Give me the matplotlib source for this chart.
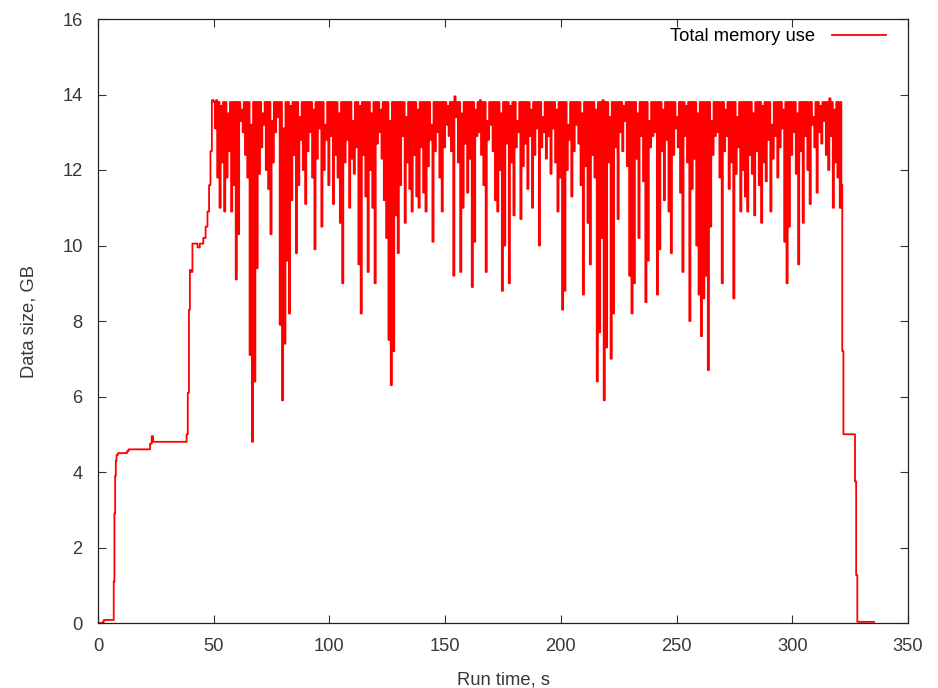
import matplotlib
matplotlib.use("Agg")
import matplotlib.pyplot as plt
import numpy as np

# ramp up before the busy phase (time s, GB)
start_t = [0, 2, 2.5, 6.8, 7.1, 7.4, 7.7, 8.0, 8.6, 12.5, 13.2, 21, 22.5, 23.2, 23.8,
           37.5, 38.3, 38.8, 39.3, 39.7, 40.3, 40.8, 41.5, 43, 44, 45.5, 46.5,
           47.3, 48, 48.6, 49.2]
start_v = [0, 0.03, 0.08, 1.1, 2.9, 3.9, 4.3, 4.45, 4.5, 4.55, 4.6, 4.6, 4.75, 4.95, 4.8,
           4.8, 5.0, 6.1, 8.3, 9.35, 9.3, 10.05, 10.05, 9.95, 10.05, 10.2, 10.5,
           10.9, 11.6, 12.5, 13.85]

# busy phase: peaks at whole seconds 50..320, troughs half a second later
peaks = [
    13.8, 13.85, 13.8, 13.7, 13.8, 13.8, 13.5, 13.8, 13.8, 13.8,
    13.8, 13.8, 13.6, 13.8, 13.8, 13.8, 13.2, 13.8, 13.8, 13.8,
    13.8, 13.5, 13.8, 13.8, 13.8, 13.3, 13.8, 13.8, 13.8, 13.8,
    13.1, 13.8, 13.8, 13.7, 13.8, 13.8, 13.8, 13.4, 13.8, 13.8,
    13.8, 13.8, 13.8, 13.6, 13.8, 13.8, 13.8, 13.8, 13.2, 13.8,
    13.8, 13.8, 13.8, 13.8, 13.5, 13.8, 13.8, 13.8, 13.8, 13.8,
    13.3, 13.8, 13.8, 13.7, 13.8, 13.8, 13.8, 13.8, 13.5, 13.8,
    13.8, 13.8, 13.6, 13.8, 13.8, 13.8, 13.3, 13.8, 13.8, 13.8,
    13.8, 13.8, 13.8, 13.4, 13.8, 13.8, 13.8, 13.8, 13.6, 13.8,
    13.8, 13.8, 13.8, 13.8, 13.2, 13.8, 13.8, 13.8, 13.8, 13.8,
    13.8, 13.7, 13.8, 13.8, 13.95, 13.8, 13.8, 13.5, 13.8, 13.8,
    13.8, 13.8, 13.8, 13.6, 13.8, 13.85, 13.8, 13.8, 13.3, 13.8,
    13.8, 13.8, 13.8, 13.8, 13.5, 13.8, 13.8, 13.8, 13.7, 13.8,
    13.8, 13.3, 13.8, 13.8, 13.8, 13.8, 13.8, 13.6, 13.8, 13.8,
    13.8, 13.8, 13.4, 13.8, 13.8, 13.8, 13.8, 13.8, 13.6, 13.8,
    13.8, 13.8, 13.8, 13.2, 13.8, 13.8, 13.8, 13.8, 13.8, 13.5,
    13.8, 13.8, 13.8, 13.8, 13.8, 13.6, 13.8, 13.8, 13.85, 13.8,
    13.8, 13.4, 13.8, 13.8, 13.8, 13.8, 13.8, 13.7, 13.8, 13.8,
    13.8, 13.8, 13.8, 13.5, 13.8, 13.8, 13.8, 13.8, 13.3, 13.8,
    13.8, 13.8, 13.8, 13.8, 13.6, 13.8, 13.8, 13.8, 13.8, 13.8,
    13.4, 13.8, 13.8, 13.8, 13.7, 13.8, 13.8, 13.8, 13.8, 13.5,
    13.8, 13.8, 13.8, 13.8, 13.8, 13.3, 13.8, 13.8, 13.8, 13.8,
    13.8, 13.6, 13.8, 13.8, 13.8, 13.8, 13.4, 13.8, 13.8, 13.8,
    13.8, 13.8, 13.8, 13.5, 13.8, 13.8, 13.8, 13.7, 13.8, 13.8,
    13.8, 13.2, 13.8, 13.8, 13.8, 13.8, 13.6, 13.8, 13.8, 13.8,
    13.8, 13.8, 13.5, 13.8, 13.8, 13.8, 13.8, 13.8, 13.8, 13.4,
    13.8, 13.8, 13.7, 13.8, 13.8, 13.8, 13.9, 13.8, 13.6, 13.8,
    13.8,
]
troughs = [
    13.1, 11.8, 11.0, 12.2, 10.9, 11.8, 12.5, 10.9, 11.6, 9.1,
    10.3, 13.3, 13.0, 12.4, 11.8, 7.1, 4.8, 6.4, 9.4, 11.9,
    12.6, 13.2, 12.0, 11.5, 10.3, 12.2, 13.0, 13.4, 7.9, 5.9,
    7.4, 9.6, 8.2, 11.2, 12.4, 9.8, 11.6, 12.8, 12.0, 11.1,
    12.5, 13.0, 11.8, 9.9, 12.3, 13.1, 10.5, 12.0, 12.8, 11.6,
    12.9, 11.1, 12.4, 11.8, 10.6, 9.0, 12.2, 12.8, 11.0, 12.3,
    11.9, 12.6, 9.5, 8.2, 12.4, 11.3, 9.3, 12.0, 11.0, 9.0,
    12.7, 13.0, 12.3, 11.2, 10.2, 7.5, 6.3, 7.2, 10.8, 9.8,
    11.6, 12.9, 10.6, 12.2, 11.5, 10.9, 12.4, 11.3, 11.0, 12.6,
    11.4, 10.9, 12.1, 12.8, 10.1, 12.5, 13.0, 11.8, 10.9, 12.6,
    13.2, 12.9, 12.5, 9.2, 13.4, 12.2, 9.3, 11.0, 12.7, 11.4,
    12.3, 8.9, 10.1, 12.9, 13.0, 12.4, 11.6, 9.3, 12.8, 13.2,
    12.5, 11.2, 10.9, 12.0, 8.8, 10.0, 12.7, 9.0, 12.2, 10.8,
    12.6, 13.0, 10.7, 12.1, 12.7, 11.5, 12.9, 11.0, 12.4, 13.1,
    10.0, 12.6, 13.0, 12.3, 12.9, 11.9, 13.1, 12.2, 10.9, 11.8,
    8.3, 8.8, 12.0, 12.8, 11.3, 12.5, 13.2, 12.7, 11.6, 8.7,
    12.1, 10.6, 9.5, 12.4, 11.8, 6.4, 7.7, 10.2, 5.9, 7.3,
    12.2, 7.0, 8.2, 12.6, 10.7, 13.0, 12.5, 13.3, 12.1, 9.2,
    8.2, 9.0, 12.3, 10.2, 12.9, 11.7, 8.5, 9.6, 12.6, 12.9,
    13.0, 8.7, 9.9, 12.5, 11.2, 12.8, 10.9, 9.8, 12.4, 13.1,
    12.6, 11.4, 9.3, 12.9, 12.2, 8.0, 11.5, 12.3, 10.0, 8.7,
    7.6, 8.6, 9.2, 6.7, 10.5, 12.4, 12.9, 13.0, 11.8, 9.0,
    12.5, 12.9, 11.5, 12.2, 8.6, 11.9, 12.6, 10.9, 12.0, 11.3,
    10.9, 12.4, 11.9, 10.8, 12.5, 11.6, 10.6, 12.2, 11.7, 12.8,
    10.9, 12.3, 12.9, 11.8, 12.6, 13.1, 10.1, 9.0, 10.5, 12.4,
    13.0, 11.9, 9.5, 12.5, 10.6, 12.9, 12.0, 11.1, 13.2, 12.6,
    11.4, 13.0, 12.7, 13.3, 12.4, 12.0, 12.9, 11.0, 12.2, 11.8,
    11.0,
]

# wind down after the busy phase
end_t = [321, 321.2, 321.6, 322.1, 327.1, 327.6, 328.1, 335.3]
end_v = [13.8, 11.6, 7.2, 5.0, 3.75, 1.27, 0.03, 0.03]

busy_t = np.empty(2 * len(troughs))
busy_v = np.empty(2 * len(troughs))
busy_t[0::2] = np.arange(50, 50 + len(troughs))
busy_t[1::2] = np.arange(50, 50 + len(troughs)) + 0.5
busy_v[0::2] = peaks[:len(troughs)]
busy_v[1::2] = troughs

t = np.concatenate([start_t, busy_t, end_t])
v = np.concatenate([start_v, busy_v, end_v])

plt.rcParams['font.family'] = ['Liberation Sans', 'DejaVu Sans']
plt.rcParams['font.size'] = 13.2

fig = plt.figure(figsize=(9.38, 6.88), dpi=100)
ax = fig.add_axes([98 / 938, 1 - 623 / 688, 810 / 938, 604 / 688])

ax.plot(t, v, color='#ff0000', lw=1.3, drawstyle='steps-post',
        label='Total memory use')

ax.set_xlim(0, 350)
ax.set_ylim(0, 16)
ax.set_xticks(np.arange(0, 351, 50))
ax.set_yticks(np.arange(0, 17, 2))
ax.tick_params(direction='in', length=6, width=0.8, top=True, right=True,
               colors='#333333', labelcolor='#383838', pad=11)
for s in ax.spines.values():
    s.set_linewidth(0.9)
    s.set_color('#222222')

ax.set_xlabel('Run time, s', color='#383838', labelpad=12)
ax.set_ylabel('Data size, GB', color='#383838', labelpad=18)

ax.legend(loc='upper right', bbox_to_anchor=(0.9728, 0.985), frameon=False,
          markerfirst=False, handlelength=2.95, handletextpad=0.93,
          borderaxespad=0, borderpad=0)

fig.savefig('out.png', dpi=100)
